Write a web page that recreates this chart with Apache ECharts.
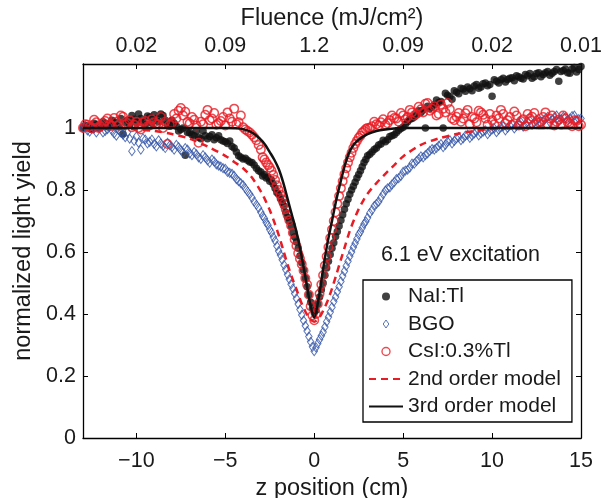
<!DOCTYPE html>
<html>
<head>
<meta charset="utf-8">
<script src="https://cdn.jsdelivr.net/npm/echarts@6/dist/echarts.min.js"></script>
<style>
html,body{margin:0;padding:0;background:#fff;}
#chart{width:611px;height:498px;}
</style>
</head>
<body>
<div id="chart"></div>
<script>
// z positions (cm), first scan, shared by the three measured series
const zPos = [
  -13, -12.75, -12.5, -12.25, -12, -11.75, -11.5, -11.25, -11, -10.75,
  -10.5, -10.25, -10, -9.75, -9.5, -9.25, -9, -8.75, -8.5, -8.25,
  -8, -7.75, -7.5, -7.25, -7, -6.75, -6.5, -6.25, -6, -5.75,
  -5.5, -5.25, -5, -4.75, -4.5, -4.25, -4, -3.75, -3.5, -3.25,
  -3, -2.9, -2.8, -2.7, -2.6, -2.5, -2.4, -2.3, -2.2, -2.1,
  -2, -1.9, -1.8, -1.7, -1.6, -1.5, -1.4, -1.3, -1.2, -1.1,
  -1, -0.9, -0.8, -0.7, -0.6, -0.5, -0.4, -0.3, -0.2, -0.1,
  0,
  0.1, 0.2, 0.3, 0.4, 0.5, 0.6, 0.7, 0.8, 0.9, 1,
  1.1, 1.2, 1.3, 1.4, 1.5, 1.6, 1.7, 1.8, 1.9, 2,
  2.1, 2.2, 2.3, 2.4, 2.5, 2.6, 2.7, 2.8, 2.9, 3,
  3.25, 3.5, 3.75, 4, 4.25, 4.5, 4.75, 5, 5.25, 5.5,
  5.75, 6, 6.25, 6.5, 6.75, 7, 7.25, 7.5, 7.75, 8,
  8.25, 8.5, 8.75, 9, 9.25, 9.5, 9.75, 10, 10.25, 10.5,
  10.75, 11, 11.25, 11.5, 11.75, 12, 12.25, 12.5, 12.75, 13,
  13.25, 13.5, 13.75, 14, 14.25, 14.5, 14.75, 15
];
// z positions (cm), interleaved points in the flat wings
const zPosB = [
  -12.875, -12.625, -12.375, -12.125, -11.875, -11.625, -11.375, -11.125, -10.875, -10.625,
  -10.375, -10.125, -9.875, -9.625, -9.375, -9.125, -8.875, -8.625, -8.375, -8.125,
  -7.875, -7.625, -7.375, -7.125, -6.875, -6.625, -6.375, -6.125, -5.875, -5.625,
  -5.375, -5.125, -4.875, -4.625, -4.375, -4.125, -3.875, -3.625, -3.375, -3.125,
  3.125, 3.375, 3.625, 3.875, 4.125, 4.375, 4.625, 4.875, 5.125, 5.375,
  5.625, 5.875, 6.125, 6.375, 6.625, 6.875, 7.125, 7.375, 7.625, 7.875,
  8.125, 8.375, 8.625, 8.875, 9.125, 9.375, 9.625, 9.875, 10.125, 10.375,
  10.625, 10.875, 11.125, 11.375, 11.625, 11.875, 12.125, 12.375, 12.625, 12.875,
  13.125, 13.375, 13.625, 13.875, 14.125, 14.375, 14.625, 14.875
];

// NaI:Tl normalized light yield
const naiY = [
  1.000, 1.005, 0.995, 1.010, 1.002, 1.015, 1.008, 1.020, 1.004, 0.980,
  1.025, 1.040, 1.018, 1.030, 1.010, 1.035, 1.042, 1.020, 1.040, 1.012,
  1.025, 1.005, 0.995, 0.912, 0.985, 0.975, 0.970, 0.990, 0.965, 0.978,
  0.968, 0.962, 0.955, 0.958, 0.935, 0.910, 0.900, 0.896, 0.888, 0.870,
  0.858, 0.845, 0.850, 0.838, 0.842, 0.828, 0.832, 0.818, 0.805, 0.792,
  0.786, 0.772, 0.760, 0.748, 0.728, 0.712, 0.700, 0.682, 0.662, 0.648,
  0.632, 0.612, 0.588, 0.565, 0.542, 0.515, 0.488, 0.462, 0.438, 0.418,
  0.405,
  0.412, 0.432, 0.455, 0.478, 0.500, 0.525, 0.548, 0.570, 0.592, 0.612,
  0.630, 0.650, 0.666, 0.684, 0.702, 0.720, 0.738, 0.755, 0.770, 0.786,
  0.800, 0.812, 0.825, 0.838, 0.850, 0.862, 0.875, 0.888, 0.898, 0.910,
  0.922, 0.935, 0.948, 0.955, 0.972, 0.978, 0.992, 1.002, 1.020, 1.030,
  1.042, 1.050, 1.000, 1.062, 1.075, 1.082, 1.000, 1.105, 1.092, 1.115,
  1.128, 1.118, 1.126, 1.135, 1.128, 1.142, 1.136, 1.102, 1.150, 1.155,
  1.148, 1.160, 1.152, 1.165, 1.158, 1.168, 1.160, 1.175, 1.165, 1.178,
  1.170, 1.182, 1.150, 1.185, 1.178, 1.190, 1.180, 1.198
];
const naiYB = [
  1.008, 0.998, 1.015, 1.000, 1.020, 1.004, 1.025, 1.012, 1.030, 1.018,
  1.010, 1.028, 1.045, 1.022, 1.038, 1.015, 1.030, 1.045, 1.025, 1.005,
  1.015, 0.990, 1.000, 0.985, 0.978, 0.990, 0.965, 0.975, 0.972, 0.962,
  0.975, 0.958, 0.950, 0.940, 0.922, 0.905, 0.902, 0.890, 0.880, 0.862,
  0.915, 0.930, 0.945, 0.960, 0.962, 0.975, 0.985, 0.998, 1.012, 1.028,
  1.035, 1.055, 1.058, 1.070, 1.068, 1.090, 1.085, 1.112, 1.100, 1.120,
  1.110, 1.125, 1.132, 1.120, 1.140, 1.132, 1.145, 1.140, 1.155, 1.145,
  1.160, 1.156, 1.162, 1.168, 1.160, 1.172, 1.175, 1.165, 1.178, 1.172,
  1.182, 1.176, 1.188, 1.182, 1.190, 1.176, 1.195, 1.188
];

// BGO normalized light yield
const bgoY = [
  1.000, 0.992, 1.008, 0.985, 1.012, 0.990, 1.004, 0.982, 0.995, 0.978,
  0.986, 0.925, 0.972, 0.930, 0.962, 0.955, 0.948, 0.960, 0.942, 0.952,
  0.938, 0.945, 0.928, 0.935, 0.918, 0.922, 0.905, 0.912, 0.895, 0.898,
  0.882, 0.875, 0.868, 0.855, 0.845, 0.828, 0.815, 0.795, 0.775, 0.752,
  0.728, 0.716, 0.708, 0.695, 0.686, 0.672, 0.662, 0.648, 0.636, 0.619,
  0.603, 0.590, 0.575, 0.558, 0.543, 0.527, 0.512, 0.496, 0.482, 0.466,
  0.450, 0.432, 0.414, 0.397, 0.379, 0.362, 0.345, 0.327, 0.310, 0.294,
  0.280,
  0.292, 0.305, 0.318, 0.330, 0.342, 0.358, 0.375, 0.390, 0.406, 0.422,
  0.440, 0.455, 0.472, 0.488, 0.505, 0.522, 0.538, 0.555, 0.570, 0.586,
  0.600, 0.615, 0.628, 0.642, 0.656, 0.665, 0.678, 0.690, 0.698, 0.710,
  0.735, 0.755, 0.775, 0.798, 0.808, 0.825, 0.838, 0.858, 0.865, 0.885,
  0.893, 0.908, 0.912, 0.926, 0.930, 0.942, 0.938, 0.956, 0.950, 0.966,
  0.960, 0.975, 0.968, 0.982, 0.976, 0.988, 0.980, 0.995, 0.986, 1.002,
  0.992, 1.008, 0.998, 1.015, 1.004, 1.020, 1.010, 1.026, 1.014, 1.030,
  1.018, 1.034, 1.022, 1.036, 1.025, 1.038, 1.024, 1.030
];
const bgoYB = [
  1.005, 0.988, 0.998, 1.002, 0.985, 0.996, 0.992, 0.975, 0.985, 0.970,
  0.965, 0.958, 0.952, 0.966, 0.950, 0.962, 0.940, 0.950, 0.935, 0.944,
  0.930, 0.938, 0.920, 0.930, 0.912, 0.915, 0.900, 0.905, 0.888, 0.892,
  0.878, 0.870, 0.858, 0.852, 0.835, 0.822, 0.805, 0.786, 0.762, 0.742,
  0.725, 0.748, 0.762, 0.786, 0.805, 0.818, 0.835, 0.845, 0.862, 0.872,
  0.885, 0.900, 0.905, 0.918, 0.932, 0.935, 0.948, 0.945, 0.960, 0.958,
  0.970, 0.966, 0.978, 0.975, 0.988, 0.982, 0.992, 0.988, 0.998, 0.994,
  1.005, 1.000, 1.012, 1.006, 1.018, 1.012, 1.024, 1.018, 1.030, 1.022,
  1.036, 1.026, 1.040, 1.028, 1.034, 1.030, 1.040, 1.028
];

// CsI:0.3%Tl normalized light yield
const csiY = [
  1.000, 1.010, 0.998, 1.018, 1.005, 1.022, 1.012, 1.032, 1.008, 1.036,
  1.015, 1.002, 1.020, 0.995, 1.022, 1.008, 1.018, 1.012, 1.000, 0.948,
  1.015, 1.030, 1.064, 1.052, 1.015, 1.026, 0.952, 1.012, 1.058, 1.030,
  1.010, 1.022, 1.008, 1.030, 1.062, 1.018, 1.002, 0.990, 0.978, 0.960,
  0.930, 0.905, 0.898, 0.888, 0.880, 0.872, 0.862, 0.848, 0.832, 0.815,
  0.800, 0.785, 0.770, 0.755, 0.738, 0.720, 0.702, 0.685, 0.662, 0.640,
  0.620, 0.596, 0.578, 0.560, 0.540, 0.515, 0.495, 0.462, 0.425, 0.395,
  0.380,
  0.400, 0.432, 0.465, 0.495, 0.525, 0.556, 0.585, 0.615, 0.645, 0.672,
  0.700, 0.728, 0.755, 0.780, 0.805, 0.828, 0.850, 0.870, 0.888, 0.905,
  0.920, 0.935, 0.948, 0.958, 0.968, 0.975, 0.985, 0.990, 0.996, 1.000,
  1.005, 1.012, 1.018, 1.010, 1.025, 1.032, 1.020, 1.040, 1.035, 1.050,
  1.045, 1.060, 1.078, 1.055, 1.070, 1.045, 1.062, 1.080, 1.030, 1.036,
  1.020, 1.047, 1.012, 1.030, 1.055, 1.042, 1.010, 1.025, 1.040, 1.058,
  1.015, 1.035, 1.053, 1.008, 1.028, 1.045, 1.036, 1.012, 1.020, 1.050,
  1.030, 1.008, 1.026, 1.040, 1.018, 1.005, 1.022, 1.010
];
const csiYB = [
  1.012, 1.004, 1.026, 1.000, 1.015, 1.030, 1.006, 1.020, 1.040, 1.012,
  1.025, 1.010, 1.000, 1.018, 1.005, 1.028, 1.012, 1.035, 1.020, 1.010,
  1.045, 1.055, 1.040, 1.020, 1.035, 1.008, 1.020, 1.042, 1.025, 1.048,
  1.015, 1.035, 1.050, 1.020, 1.012, 1.040, 0.995, 0.985, 0.970, 0.945,
  1.000, 1.020, 1.008, 1.028, 1.015, 1.040, 1.030, 1.048, 1.028, 1.058,
  1.040, 1.068, 1.050, 1.080, 1.062, 1.040, 1.075, 1.050, 1.060, 1.025,
  1.048, 1.030, 1.058, 1.035, 1.018, 1.050, 1.030, 1.045, 1.012, 1.030,
  1.045, 1.025, 1.010, 1.040, 1.022, 1.005, 1.030, 1.048, 1.018, 1.035,
  1.012, 1.040, 1.020, 1.010, 1.030, 1.015, 1.025, 1.005
];

// model curves
const modelZ = [
  -13, -12, -11, -10, -9, -8, -7, -6, -5,
  -4.5, -4, -3.5,
  -3, -2.75, -2.5, -2.25, -2, -1.75, -1.5, -1.25, -1, -0.75, -0.5, -0.25, 0,
  0.25, 0.5, 0.75, 1, 1.25, 1.5, 1.75, 2, 2.25, 2.5, 2.75, 3,
  3.5, 4, 4.5, 5,
  6, 7, 8, 9, 10, 11, 12, 13, 14, 15
];
const model2Y = [
  1.0, 0.999, 0.998, 0.995, 0.99, 0.98, 0.965, 0.94, 0.91,
  0.89, 0.87, 0.84,
  0.795, 0.767, 0.735, 0.697, 0.655, 0.608, 0.56, 0.518, 0.48, 0.44, 0.408, 0.385, 0.375,
  0.385, 0.41, 0.442, 0.482, 0.528, 0.575, 0.622, 0.668, 0.705, 0.738, 0.765, 0.788,
  0.822, 0.852, 0.88, 0.908,
  0.945, 0.966, 0.98, 0.99, 0.996, 0.999, 1.0, 1.0, 1.0, 1.0
];
const model3Y = [
  1, 1, 1, 1, 1, 1, 1, 1, 1,
  0.999, 0.996, 0.985,
  0.962, 0.945, 0.922, 0.898, 0.868, 0.825, 0.772, 0.718, 0.665, 0.598, 0.52, 0.44, 0.388,
  0.45, 0.545, 0.63, 0.70, 0.77, 0.83, 0.885, 0.925, 0.948, 0.962, 0.972, 0.98,
  0.99, 0.995, 0.998, 1.0,
  1, 1, 1, 1, 1, 1, 1, 1, 1, 1
];

// tick values and labels
const zTicks = [-10, -5, 0, 5, 10, 15];
const fluenceLabels = ['0.02', '0.09', '1.2', '0.09', '0.02', '0.01'];
const yTicks = [0, 0.2, 0.4, 0.6, 0.8, 1];

const FONT = '"Liberation Sans", Arial, Helvetica, sans-serif';
const TXT = '#1a1a1a';
const C_NAI = '#111111';
const C_BGO = '#3052a6';
const C_CSI = '#e81c24';
const TICK_FS = 21.5;
const NAME_FS = 23.5;

const pairs = (xs, ys) => xs.map((x, i) => [x, ys[i]]);

const axisLine = { show: true, onZero: false, lineStyle: { color: '#000', width: 1.3 } };
const tick = (vals) => ({ show: true, inside: true, length: 5, customValues: vals, lineStyle: { color: '#000', width: 1 } });

const chart = echarts.init(document.getElementById('chart'), null, { renderer: 'canvas' });
chart.setOption({
  animation: false,
  backgroundColor: '#fff',
  grid: { left: 83, right: 30, top: 64, bottom: 60, containLabel: false, outerBoundsMode: 'none' },
  xAxis: [
    {
      type: 'value', position: 'bottom', min: -13, max: 15,
      axisLine: axisLine, axisTick: tick(zTicks), splitLine: { show: false },
      axisLabel: {
        customValues: zTicks, fontSize: TICK_FS, color: TXT, fontFamily: FONT, margin: 12,
        formatter: v => String(v).replace('-', '\u2212')
      },
      name: 'z position (cm)', nameLocation: 'middle', nameGap: 38,
      nameTextStyle: { fontSize: NAME_FS, color: TXT, fontFamily: FONT }
    },
    {
      type: 'value', position: 'top', min: -13, max: 15,
      axisLine: axisLine, axisTick: tick(zTicks), splitLine: { show: false },
      axisLabel: {
        customValues: zTicks, fontSize: TICK_FS, color: TXT, fontFamily: FONT, margin: 7,
        formatter: v => { const i = zTicks.indexOf(v); return i >= 0 ? fluenceLabels[i] : ''; }
      },
      name: 'Fluence (mJ/cm²)', nameLocation: 'middle', nameGap: 31,
      nameTextStyle: { fontSize: NAME_FS, color: TXT, fontFamily: FONT }
    }
  ],
  yAxis: [
    {
      type: 'value', position: 'left', min: 0, max: 1.206,
      axisLine: axisLine, axisTick: tick(yTicks), splitLine: { show: false },
      axisLabel: { customValues: yTicks, fontSize: TICK_FS, color: TXT, fontFamily: FONT, margin: 7 },
      name: 'normalized light yield', nameLocation: 'middle', nameGap: 42,
      nameTextStyle: { fontSize: NAME_FS, color: TXT, fontFamily: FONT }
    },
    {
      type: 'value', position: 'right', min: 0, max: 1.206,
      axisLine: axisLine, axisTick: tick(yTicks), splitLine: { show: false },
      axisLabel: { show: false }
    }
  ],
  legend: {
    orient: 'vertical', left: 363, top: 280,
    itemWidth: 34, itemHeight: 8, itemGap: 6.5,
    padding: [6, 11, 5, 5],
    borderColor: '#000', borderWidth: 1.3, backgroundColor: '#fff',
    textStyle: { fontSize: 21, color: TXT, fontFamily: FONT },
    data: [
      { name: 'NaI:Tl', icon: 'circle', itemStyle: { color: C_NAI, borderWidth: 0 } },
      { name: 'BGO', icon: 'path://M5,0L10,7L5,14L0,7Z', itemStyle: { color: 'rgba(0,0,0,0)', borderColor: C_BGO, borderWidth: 1 } },
      { name: 'CsI:0.3%Tl', icon: 'circle', itemStyle: { color: 'rgba(0,0,0,0)', borderColor: C_CSI, borderWidth: 1.4 } },
      { name: '2nd order model', itemStyle: { opacity: 0 } },
      { name: '3rd order model', itemStyle: { opacity: 0 } }
    ]
  },
  graphic: [
    {
      type: 'text', left: 381, top: 244, z: 100,
      style: { text: '6.1 eV excitation', font: '21.5px ' + FONT, fill: TXT }
    }
  ],
  series: [
    {
      name: 'NaI:Tl', type: 'scatter', symbol: 'circle', symbolSize: 7.5,
      itemStyle: { color: C_NAI },
      data: pairs(zPos, naiY).concat(pairs(zPosB, naiYB)), z: 2
    },
    {
      name: 'BGO', type: 'scatter', symbol: 'diamond', symbolSize: [6.5, 9],
      itemStyle: { color: 'rgba(0,0,0,0)', borderColor: C_BGO, borderWidth: 1 },
      data: pairs(zPos, bgoY).concat(pairs(zPosB, bgoYB)), z: 2
    },
    {
      name: 'CsI:0.3%Tl', type: 'scatter', symbol: 'circle', symbolSize: 8.5,
      itemStyle: { color: 'rgba(0,0,0,0)', borderColor: C_CSI, borderWidth: 1.5 },
      data: pairs(zPos, csiY).concat(pairs(zPosB, csiYB)), z: 2
    },
    {
      name: '2nd order model', type: 'line', symbol: 'none', smooth: 0.3,
      lineStyle: { color: C_CSI, width: 2.5, type: [7, 5] }, itemStyle: { color: C_CSI },
      data: pairs(modelZ, model2Y), z: 3
    },
    {
      name: '3rd order model', type: 'line', symbol: 'none', smooth: 0.3,
      lineStyle: { color: '#111', width: 2.5 }, itemStyle: { color: '#111' },
      data: pairs(modelZ, model3Y), z: 3
    }
  ]
});
</script>
</body>
</html>
